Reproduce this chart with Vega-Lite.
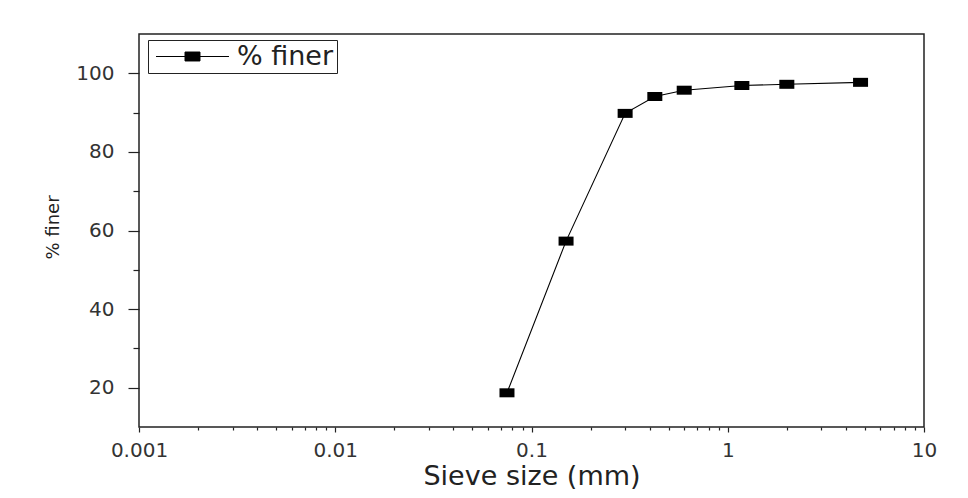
{
  "$schema": "https://vega.github.io/schema/vega-lite/v6.json",
  "width": 785,
  "height": 393,
  "autosize": {"type": "none"},
  "padding": {"left": 139, "top": 34, "right": 44, "bottom": 71},
  "background": "white",
  "config": {"view": {"stroke": "#222", "strokeWidth": 1.5}},
  "data": {
    "values": [
      {"size": 0.075, "finer": 18.7},
      {"size": 0.15, "finer": 57.3},
      {"size": 0.3, "finer": 89.8},
      {"size": 0.425, "finer": 94.1},
      {"size": 0.6, "finer": 95.7},
      {"size": 1.18, "finer": 96.9},
      {"size": 2.0, "finer": 97.2},
      {"size": 4.75, "finer": 97.7}
    ]
  },
  "encoding": {
    "x": {
      "field": "size",
      "type": "quantitative",
      "title": "Sieve size (mm)",
      "scale": {"type": "log", "domain": [0.001, 10]},
      "axis": {
        "values": [0.001, 0.002, 0.003, 0.004, 0.005, 0.006, 0.007, 0.008, 0.009, 0.01, 0.02, 0.03, 0.04, 0.05, 0.06, 0.07, 0.08, 0.09, 0.1, 0.2, 0.3, 0.4, 0.5, 0.6, 0.7, 0.8, 0.9, 1, 2, 3, 4, 5, 6, 7, 8, 9, 10],
        "labelExpr": "abs(log(datum.value)/LN10 - round(log(datum.value)/LN10)) < 0.000001 ? format(datum.value, '~g') : ''",
        "tickSize": {"condition": {"test": "abs(log(datum.value)/LN10 - round(log(datum.value)/LN10)) < 0.000001", "value": 5}, "value": 3},
        "tickColor": "#222",
        "tickWidth": 1.2,
        "domain": false,
        "grid": false,
        "labelFlush": false,
        "labelOverlap": false,
        "labelPadding": 8,
        "labelFont": "DejaVu Sans",
        "labelFontSize": 20,
        "labelColor": "#333",
        "titleFont": "DejaVu Sans",
        "titleFontSize": 27,
        "titleFontWeight": "normal",
        "titleColor": "#222",
        "titleY": 57,
        "titleBaseline": "alphabetic"
      }
    },
    "y": {
      "field": "finer",
      "type": "quantitative",
      "title": "% finer",
      "scale": {"domain": [10, 110], "nice": false},
      "axis": {
        "values": [20, 30, 40, 50, 60, 70, 80, 90, 100],
        "labelExpr": "datum.value % 20 == 0 ? datum.label : ''",
        "tickSize": {"condition": {"test": "datum.value % 20 == 0", "value": 11}, "value": 6},
        "tickColor": "#222",
        "tickWidth": 1.2,
        "domain": false,
        "grid": false,
        "labelPadding": 14,
        "labelFont": "DejaVu Sans",
        "labelFontSize": 20,
        "labelColor": "#333",
        "titleFont": "DejaVu Sans",
        "titleFontSize": 18,
        "titleFontWeight": "normal",
        "titleColor": "#222",
        "titleX": -81,
        "titleY": 193,
        "titleAngle": -90,
        "titleAlign": "center",
        "titleBaseline": "alphabetic"
      }
    }
  },
  "layer": [
    {
      "mark": {"type": "line", "color": "black", "strokeWidth": 1.1}
    },
    {
      "mark": {"type": "point", "filled": true, "opacity": 1, "size": 225, "shape": "M-1,-0.6H1V0.6H-1Z"},
      "encoding": {
        "color": {
          "datum": "% finer",
          "type": "nominal",
          "scale": {"range": ["black"]},
          "legend": {
            "title": null,
            "orient": "none",
            "legendX": 9,
            "legendY": 6,
            "padding": 3,
            "strokeColor": "#222",
            "fillColor": "white",
            "symbolType": "M-4,0H4M-0.82,-0.49H0.82V0.49H-0.82Z",
            "symbolSize": 333,
            "symbolStrokeColor": "black",
            "symbolFillColor": "black",
            "symbolStrokeWidth": 1,
            "symbolOffset": 28,
            "labelOffset": 31,
            "labelFont": "DejaVu Sans",
            "labelFontSize": 27,
            "labelColor": "#222"
          }
        }
      }
    }
  ]
}
